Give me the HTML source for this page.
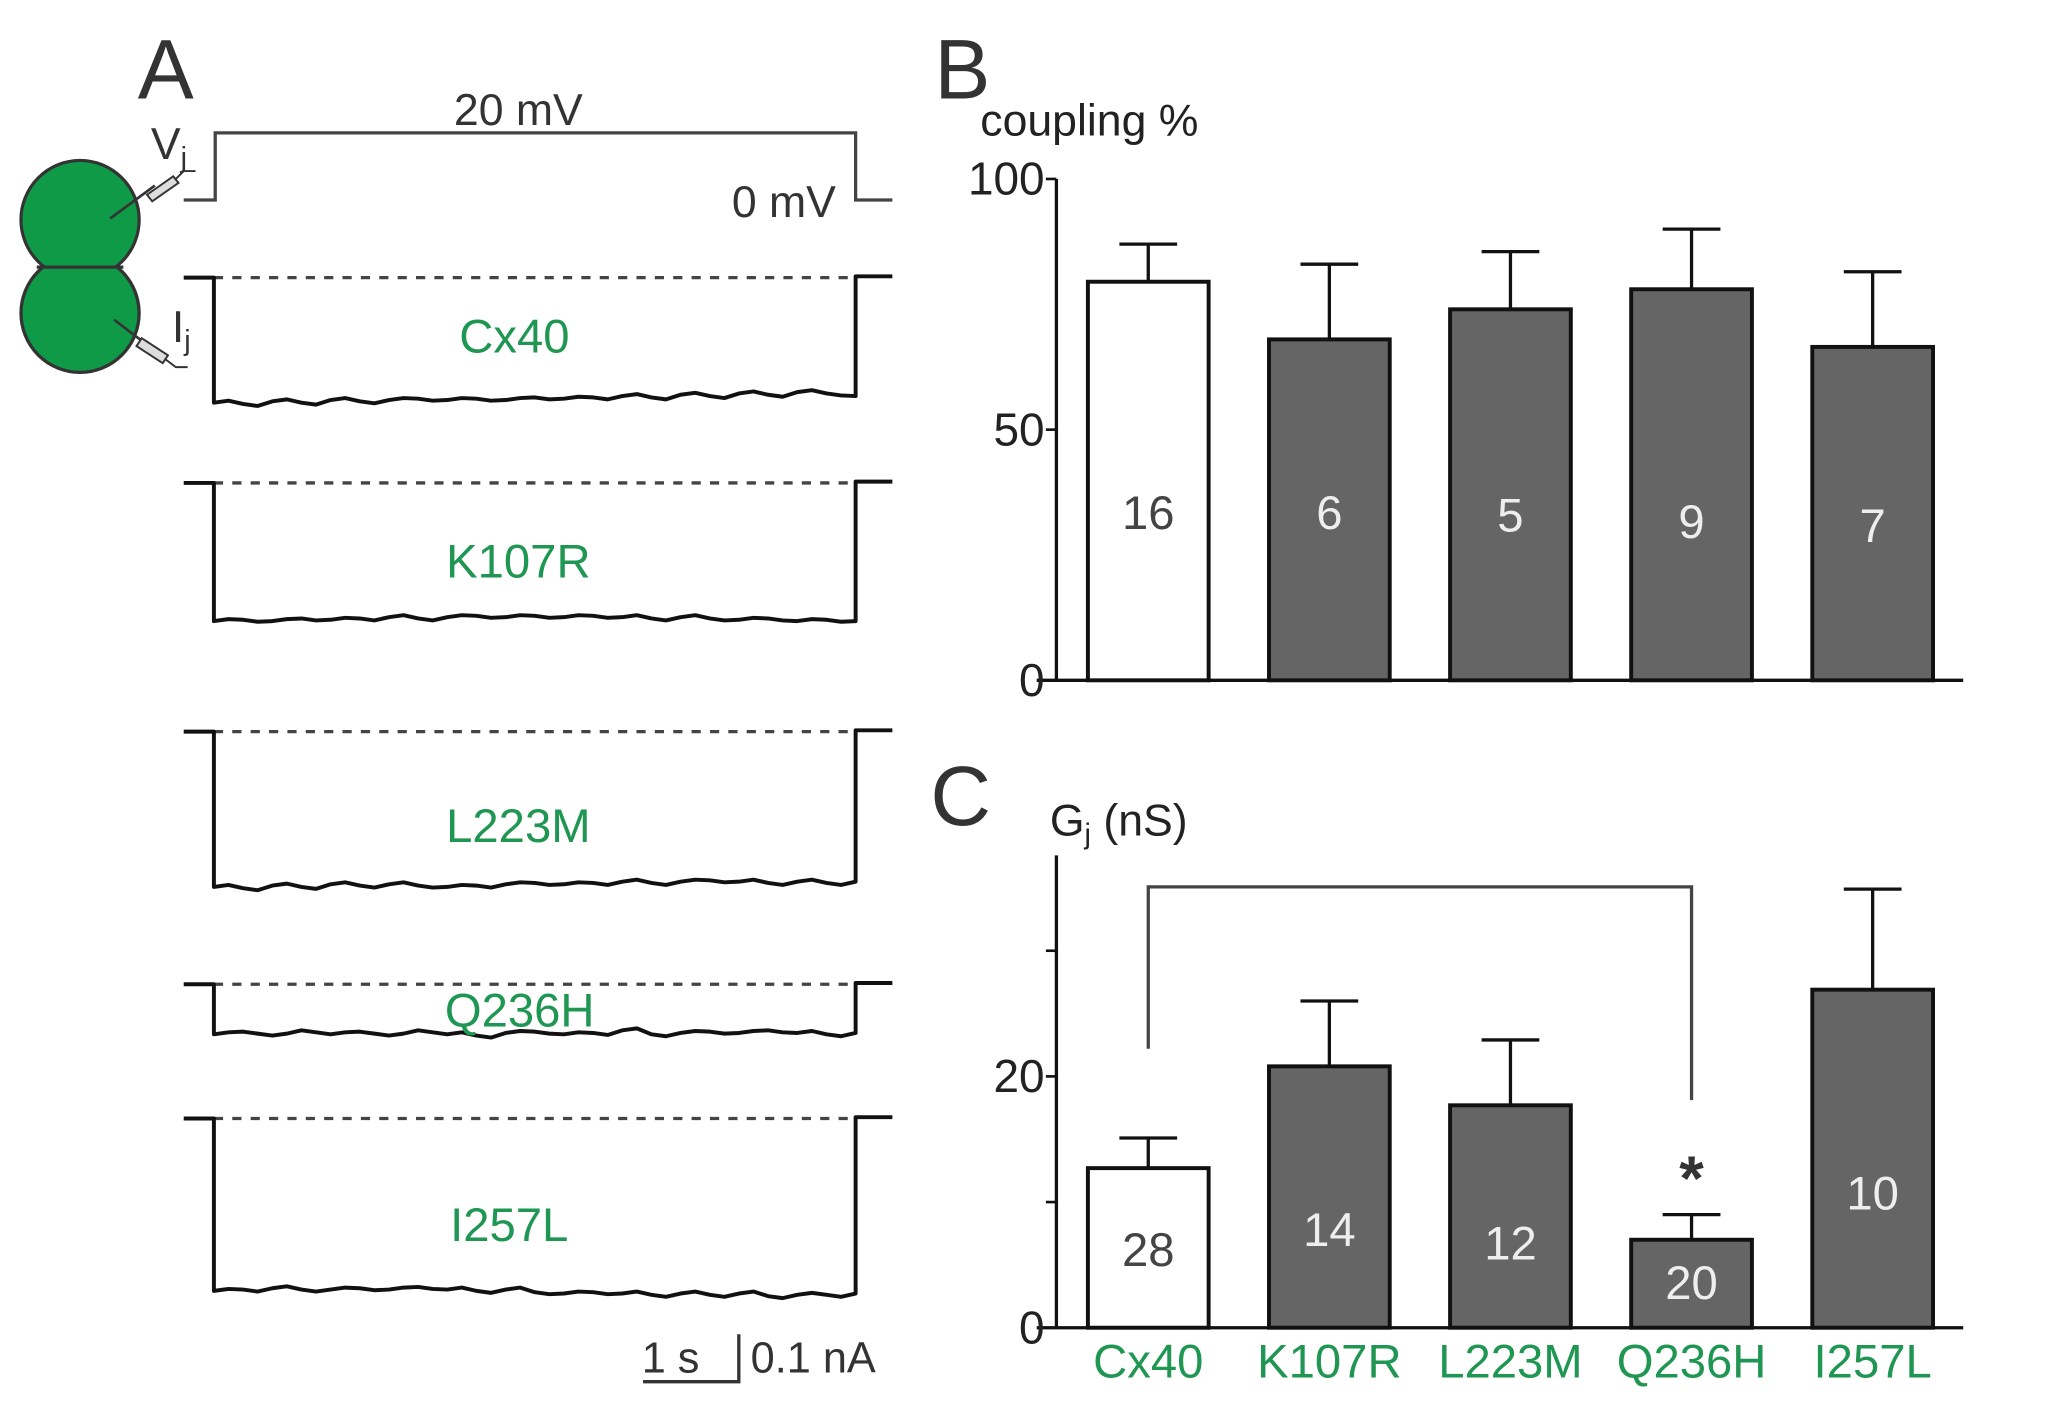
<!DOCTYPE html>
<html><head><meta charset="utf-8">
<style>
html,body{margin:0;padding:0;background:#fff;}
svg{display:block;}
text{font-family:"Liberation Sans",Arial,sans-serif;}
</style></head>
<body>
<svg id="fig" width="2059" height="1408" viewBox="0 0 1569 1070" preserveAspectRatio="none" xmlns="http://www.w3.org/2000/svg">
  <rect width="1569" height="1070" fill="#fff"/>
  <text x="105" y="75" font-size="64" fill="#333">A</text>
  <text x="712" y="75" font-size="64" fill="#333">B</text>
  <text x="709" y="627" font-size="64" fill="#333">C</text>

  <g>
    <circle cx="61" cy="167" r="45" fill="#0f9a48" stroke="#333" stroke-width="2.5"/>
    <circle cx="61" cy="238" r="45" fill="#0f9a48" stroke="#333" stroke-width="2.5"/>
    <circle cx="61" cy="167" r="43.8" fill="#0f9a48"/>
    <line x1="28" y1="203" x2="94" y2="203" stroke="#333" stroke-width="2.5"/>
    <path d="M84,166 L118,141" stroke="#333" stroke-width="2"/>
    <path d="M112,148 L132,134 L136,139 L116,153 Z" fill="#ddd" stroke="#333" stroke-width="1.5"/>
    <path d="M134,136 L140,130 L149,130" fill="none" stroke="#333" stroke-width="1.5"/>
    <path d="M87,243 L112,262" stroke="#333" stroke-width="2"/>
    <path d="M108,257 L128,270 L124,276 L104,263 Z" fill="#ddd" stroke="#333" stroke-width="1.5"/>
    <path d="M126,273 L134,279 L143,279" fill="none" stroke="#333" stroke-width="1.5"/>
    <text x="115" y="121" font-size="34" fill="#333">V<tspan font-size="22" dy="6">j</tspan></text>
    <text x="131" y="260" font-size="34" fill="#333">I<tspan font-size="22" dy="6">j</tspan></text>
  </g>

  <path d="M140,152 L164,152 L164,101 L652,101 L652,152 L680,152" fill="none" stroke="#444" stroke-width="2.5"/>
  <text x="395" y="95" font-size="34" fill="#333" text-anchor="middle">20 mV</text>
  <text x="637" y="165" font-size="34" fill="#333" text-anchor="end">0 mV</text>

  <g id="traces"></g>

  <g>
    <path d="M490,1050 L563,1050 L563,1014" fill="none" stroke="#333" stroke-width="2.5"/>
    <text x="489" y="1043" font-size="33" fill="#333">1 s</text>
    <text x="572" y="1043" font-size="33" fill="#333">0.1 nA</text>
  </g>

  <g id="chartB"></g>
  <g id="chartC"></g>
</svg>
<script>
const NS = "http://www.w3.org/2000/svg";
const GREEN = "#1f9652";
const traceNames = ["Cx40","K107R","L223M","Q236H","I257L"];
const traceBaseY = [211, 367, 556, 748, 850];
const traceLowY = [305, 471, 673, 786, 981];
const traceLabelY = [268, 439, 640, 780, 943];
const traceLabelX = [392, 395, 395, 396, 388];
const noiseCx40 = [1,2,0,1,-1,0,-1,-2,-1,-2,-1,-3,-2,-3,-4,-3,-5,-4,-6,-5,-7,-6,-4];
const noiseK107R = [1,0,1,-1,0,-1,-2,-1,-2,-3,-2,-3,-2,-3,-2,-1,-2,-1,0,-1,1,0,1];
const noiseL223M = [1,2,0,1,-1,0,-1,0,1,0,-1,-2,-1,-2,-3,-2,-3,-4,-3,-2,-3,-2,-3];
const noiseQ236H = [0,-2,1,-3,0,-2,1,-3,0,1,-1,-2,0,-1,-3,0,-1,-2,-1,-3,-1,0,-1];
const noiseI257L = [0,-1,-2,-1,-1,-2,-1,-3,-1,0,-1,1,2,1,2,3,2,3,2,4,3,3,2];
const traceNoise = [noiseCx40, noiseK107R, noiseL223M, noiseQ236H, noiseI257L];

const tg = document.getElementById("traces");
function mk(tag, attrs, parent){ const e=document.createElementNS(NS,tag); for(const k in attrs) e.setAttribute(k,attrs[k]); parent.appendChild(e); return e; }
const x0=163, x1=652;
traceNames.forEach((n,i)=>{
  const g = mk("g",{},tg);
  
  
  const yb=traceBaseY[i], yl=traceLowY[i], nz=traceNoise[i];
  mk("line",{x1:x0,y1:yb,x2:x1,y2:yb,stroke:"#444","stroke-width":2.5,"stroke-dasharray":"7,7"},g);
  let d=`M140,${yb} L${x0},${yb} L${x0},${yl}`;
  const n2=nz.length;
  for(let k=0;k<n2;k++){
    const xa=x0+(x1-x0)*k/(n2-1);
    d+=` L${xa.toFixed(1)},${yl+nz[k]}`;
    if(k<n2-1){const xm=xa+(x1-x0)/(n2-1)/2; d+=` L${xm.toFixed(1)},${yl+nz[k]+((k%2)?1.5:-1.5)}`;}
  }
  d+=` L${x1},${yb-1} L680,${yb-1}`;
  mk("path",{d:d,fill:"none",stroke:"#111","stroke-width":3,"stroke-linejoin":"round"},g);
  const t=mk("text",{x:traceLabelX[i],y:traceLabelY[i],"font-size":36,fill:GREEN,"text-anchor":"middle"},tg);
  
  
  t.textContent=n;
});

const categories = ["Cx40","K107R","L223M","Q236H","I257L"];
const couplingMean = [79.5, 68, 74, 78, 66.5];
const couplingErr = [7.5, 15, 11.5, 12, 15];
const couplingN = ["16","6","5","9","7"];
const couplingTicks = [0, 50, 100];
const gjMean = [12.7, 20.8, 17.7, 7.0, 26.9];
const gjErr = [2.4, 5.2, 5.2, 2.0, 8.0];
const gjN = ["28","14","12","20","10"];
const gjTickValues = [0, 10, 20, 30];
const gjTickLabels = ["0", "", "20", ""];

function bandX(i){ return 829 + i*138; }
const BW = 92;

function drawChart(gid, name, mean, err, nlab, yFn, ticks, tickLabels, axisTop, labelValuesY){
  const g=document.getElementById(gid);
  
  
  const y0=yFn(0);
  mean.forEach((v,i)=>{
    const x=bandX(i), yt=yFn(v), ye=yFn(v+err[i]), cx=x+BW/2;
    const eb=mk("path",{d:`M${cx},${yt} L${cx},${ye} M${cx-22},${ye} L${cx+22},${ye}`,stroke:"#111","stroke-width":2.5,fill:"none"},g);
    
    
    const r=mk("rect",{x:x,y:yt,width:BW,height:y0-yt,fill:i===0?"#fff":"#656565",stroke:"#111","stroke-width":3},g);
    
    
    const t=mk("text",{x:cx,y:labelValuesY[i],"font-size":36,fill:i===0?"#444":"#eee","text-anchor":"middle"},g);
    
    
    t.textContent=nlab[i];
  });
  const ax=mk("path",{d:`M805,${axisTop} L805,${y0} M790,${y0} L1496,${y0}`,stroke:"#111","stroke-width":2.5,fill:"none"},g);
  
  
  ticks.forEach((v,i)=>{
    const y=yFn(v);
    const tk=mk("line",{x1:797,y1:y,x2:805,y2:y,stroke:"#111","stroke-width":2},g);
    
    
    if(tickLabels[i]){
      const t=mk("text",{x:796,y:y+12,"font-size":35,fill:"#222","text-anchor":"end"},g);
      
      
      t.textContent=tickLabels[i];
    }
  });
}
const yB = v => 517 - v*3.81;
drawChart("chartB","coupling-chart",couplingMean,couplingErr,couplingN,yB,couplingTicks,couplingTicks.map(String),136,[402,402,404,409,412]);
const yC = v => 1009 - v*9.55;
drawChart("chartC","gj-chart",gjMean,gjErr,gjN,yC,gjTickValues,gjTickLabels,650,[962,947,957,987,919]);

const gB=document.getElementById("chartB");
const yt1=mk("text",{x:747,y:103,"font-size":34,fill:"#222"},gB);


yt1.textContent="coupling %";

const gC=document.getElementById("chartC");
const yt2=mk("text",{x:800,y:635,"font-size":34,fill:"#222"},gC);


yt2.innerHTML='G<tspan font-size="22" dy="6">j</tspan><tspan dy="-6"> (nS)</tspan>';
const br=mk("path",{d:`M${bandX(0)+BW/2},797 L${bandX(0)+BW/2},674 L${bandX(3)+BW/2},674 L${bandX(3)+BW/2},836`,stroke:"#444","stroke-width":2.5,fill:"none"},gC);


const st=mk("text",{x:bandX(3)+BW/2,y:912,"font-size":48,"font-weight":"bold",fill:"#333","text-anchor":"middle"},gC);


st.textContent="*";
categories.forEach((c,i)=>{
  const t=mk("text",{x:bandX(i)+BW/2,y:1047,"font-size":36,fill:GREEN,"text-anchor":"middle"},gC);
  
  
  t.textContent=c;
});
</script>
</body></html>
